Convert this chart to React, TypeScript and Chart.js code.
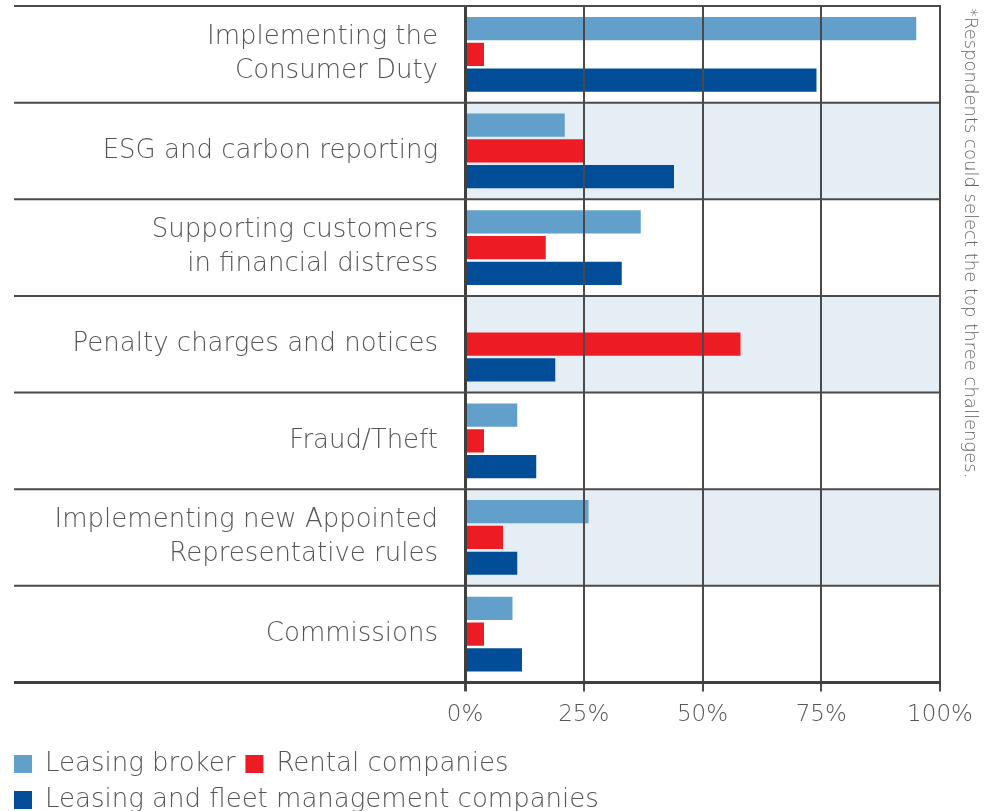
import React, { useEffect, useRef } from "react";
import { Chart, registerables } from "chart.js";
Chart.register(...registerables);

const categories: (string | string[])[] = [
  ["Implementing the", "Consumer Duty"],
  "ESG and carbon reporting",
  ["Supporting customers", "in financial distress"],
  "Penalty charges and notices",
  "Fraud/Theft",
  ["Implementing new Appointed", "Representative rules"],
  "Commissions",
];
const seriesNames = ["Leasing broker", "Rental companies", "Leasing and fleet management companies"];
const leasingBroker = [95, 21, 37, 0, 11, 26, 10];
const rentalCompanies = [4, 25, 17, 58, 4, 8, 4];
const fleetCompanies = [74, 44, 33, 19, 15, 11, 12];
const xTickValues = [0, 25, 50, 75, 100];
const footnote = "*Respondents could select the top three challenges.";

const FONT = "'DejaVu Sans'";
const WEIGHT = "200";
const TEXT = "#555555";
const LINE = "#4a4a4a";

const rowPlugin = {
  id: "rows",
  beforeDatasetsDraw(chart: any) {
    const { ctx, chartArea, scales } = chart;
    const y = scales.y;
    const n = categories.length;
    const half = (y.getPixelForValue(1) - y.getPixelForValue(0)) / 2;
    ctx.save();
    ctx.fillStyle = "#e5edf5";
    for (let i = 0; i < n; i++) {
      if (i % 2 === 1) {
        const c = y.getPixelForValue(i);
        ctx.fillRect(chartArea.left, c - half, chartArea.right - chartArea.left, half * 2);
      }
    }
    ctx.restore();
  },
  afterDraw(chart: any) {
    const { ctx, chartArea, scales } = chart;
    const y = scales.y;
    const n = categories.length;
    const half = (y.getPixelForValue(1) - y.getPixelForValue(0)) / 2;
    ctx.save();
    for (let i = 0; i <= n; i++) {
      const yy = i < n ? y.getPixelForValue(i) - half : y.getPixelForValue(n - 1) + half;
      ctx.beginPath();
      ctx.strokeStyle = i === n ? "#3f3f3f" : LINE;
      ctx.lineWidth = i === n ? 3 : 2;
      ctx.moveTo(14, yy);
      ctx.lineTo(chartArea.right + 1, yy);
      ctx.stroke();
    }
    ctx.restore();
  },
};

export default function App() {
  const ref = useRef<HTMLCanvasElement>(null);
  useEffect(() => {
    document.body.style.margin = "0";
    if (!ref.current) return;
    const chart = new Chart(ref.current, {
      type: "bar",
      data: {
        labels: categories,
        datasets: [
          { label: seriesNames[0], data: leasingBroker, backgroundColor: "#629fca" },
          { label: seriesNames[1], data: rentalCompanies, backgroundColor: "#ed1c24" },
          { label: seriesNames[2], data: fleetCompanies, backgroundColor: "#024d97" },
        ],
      },
      options: {
        indexAxis: "y",
        responsive: false,
        animation: false,
        categoryPercentage: 0.8,
        barPercentage: 0.9,
        layout: { padding: { left: 4, right: 47, top: 6, bottom: -12 } },
        scales: {
          x: {
            min: 0,
            max: 100,
            afterBuildTicks: (s: any) => {
              s.ticks = xTickValues.map((v) => ({ value: v }));
            },
            afterFit: (s: any) => {
              s.height = s.height + 2;
            },
            ticks: {
              callback: (v: any) => v + "%",
              font: { family: FONT, size: 23, weight: WEIGHT },
              color: TEXT,
              padding: 10,
              maxRotation: 0,
            },
            grid: {
              color: LINE,
              lineWidth: (c: any) => (c.index === 0 ? 3 : 2),
              tickLength: 9,
              z: 1,
            },
            border: { display: false },
          },
          y: {
            afterFit: (s: any) => {
              s.width = 461;
              s.paddingTop = 0;
              s.paddingBottom = 0;
            },
            ticks: {
              font: { family: FONT, size: 26, weight: WEIGHT, lineHeight: 1.3 },
              color: TEXT,
              padding: 27,
            },
            grid: { display: false, drawTicks: false },
            border: { display: true, color: "#3f3f3f", width: 3, z: 1 },
          },
        },
        plugins: {
          legend: {
            position: "bottom",
            align: "start",
            labels: {
              boxWidth: 18,
              boxHeight: 18,
              padding: 10,
              color: TEXT,
              font: { family: FONT, size: 26, weight: WEIGHT },
            },
          },
          tooltip: { enabled: false },
        },
      },
      plugins: [rowPlugin],
    } as any);
    return () => chart.destroy();
  }, []);
  return (
    <div style={{ position: "relative", width: 987, height: 811 }}>
      <canvas ref={ref} width={987} height={811} />
      <div
        style={{
          position: "absolute",
          left: 960,
          top: 8,
          writingMode: "vertical-rl",
          fontFamily: FONT,
          fontWeight: 200,
          fontSize: 18,
          color: "#666",
          whiteSpace: "nowrap",
          lineHeight: "22px",
        }}
      >
        {footnote}
      </div>
    </div>
  );
}
